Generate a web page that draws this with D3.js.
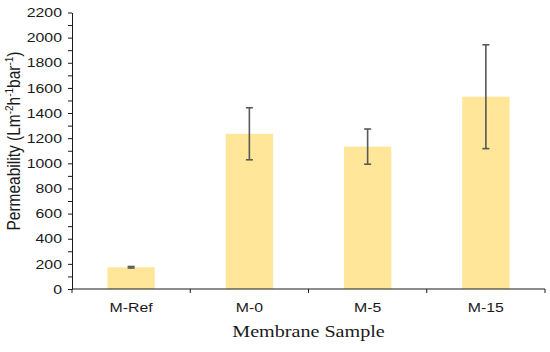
<!DOCTYPE html>
<html>
<head>
<meta charset="utf-8">
<script src="https://cdn.jsdelivr.net/npm/d3@7"></script>
<style>
  body { margin: 0; background: #fff; }
  .axis text { font-family: "Liberation Sans", Arial, sans-serif; font-size: 13px; fill: #1a1a1a; }
  .axis path, .axis line { stroke: #1a1a1a; }
</style>
</head>
<body>
<div id="chart"></div>
<script>
// data
const samples = ['M-Ref', 'M-0', 'M-5', 'M-15'];
const permeability = [173, 1235, 1133, 1530];
const errors = [6, 207, 140, 413];
const yTicks = [0, 200, 400, 600, 800, 1000, 1200, 1400, 1600, 1800, 2000, 2200];

const width = 550, height = 352;
const margin = {top: 12.5, right: 5, bottom: 63, left: 72};
const innerW = width - margin.left - margin.right;
const innerH = height - margin.top - margin.bottom;
// the source image is a little stretched sideways, so text is too
const stretch = 1.22;

const data = samples.map((s, i) => ({name: s, value: permeability[i], err: errors[i]}));

const svg = d3.select('#chart').append('svg')
  .attr('width', width)
  .attr('height', height);

const g = svg.append('g')
  .attr('transform', `translate(${margin.left},${margin.top})`);

const x = d3.scaleBand().domain(samples).range([0, innerW]).paddingInner(0.6).paddingOuter(0.3);
// same categories without padding, for the boundary tick marks
const xEdges = d3.scaleBand().domain(samples).range([0, innerW]).padding(0);
const y = d3.scaleLinear().domain([0, 2200]).range([innerH, 0]);

// bars
g.selectAll('.bar').data(data).join('rect')
  .attr('class', 'bar')
  .attr('x', d => x(d.name))
  .attr('width', x.bandwidth())
  .attr('y', d => y(d.value))
  .attr('height', d => innerH - y(d.value))
  .attr('fill', '#FFE699');

// error bars
const eb = g.selectAll('.err').data(data).join('g').attr('class', 'err')
  .attr('stroke', '#595959')
  .attr('stroke-width', 1.6);
const cx = d => x(d.name) + x.bandwidth() / 2;
eb.append('line')
  .attr('x1', cx).attr('x2', cx)
  .attr('y1', d => y(d.value + d.err)).attr('y2', d => y(d.value - d.err));
eb.append('line')
  .attr('x1', d => cx(d) - 3.5).attr('x2', d => cx(d) + 3.5)
  .attr('y1', d => y(d.value + d.err)).attr('y2', d => y(d.value + d.err));
eb.append('line')
  .attr('x1', d => cx(d) - 3.5).attr('x2', d => cx(d) + 3.5)
  .attr('y1', d => y(d.value - d.err)).attr('y2', d => y(d.value - d.err));

// y axis: ticks every 100, labels every 200
const yMinor = d3.range(0, 2201, 100);
const yAxis = d3.axisLeft(y)
  .tickValues(yMinor)
  .tickSize(4)
  .tickSizeOuter(0)
  .tickPadding(4.2)
  .tickFormat(d => yTicks.includes(d) ? d : '');
g.append('g').attr('class', 'axis y-axis').call(yAxis)
  .selectAll('text').attr('transform', `scale(${stretch},1)`);

// x axis: labels centred, tick marks on category boundaries
const xAxis = d3.axisBottom(x).tickSize(0).tickPadding(14);
const xG = g.append('g').attr('class', 'axis x-axis')
  .attr('transform', `translate(0,${innerH})`)
  .call(xAxis);
xG.selectAll('text').attr('transform', `scale(${stretch},1)`);
xG.select('.domain').remove();
xG.append('line').attr('x1', 0).attr('x2', innerW).attr('stroke', '#1a1a1a');
const edges = samples.map(s => xEdges(s)).concat([innerW]);
xG.selectAll('.edge').data(edges).join('line')
  .attr('class', 'edge')
  .attr('x1', d => d).attr('x2', d => d)
  .attr('y1', 0).attr('y2', 4)
  .attr('stroke', '#1a1a1a');

// axis titles
svg.append('text')
  .attr('transform', `translate(${margin.left + innerW / 2},337) scale(1.15,1)`)
  .attr('text-anchor', 'middle')
  .style('font-family', '"Liberation Serif", "Times New Roman", serif')
  .style('font-size', '17.5px')
  .style('fill', '#1a1a1a')
  .text('Membrane Sample');

const yl = svg.append('text')
  .attr('transform', 'translate(20,141) rotate(-90) scale(1,1.18)')
  .attr('text-anchor', 'middle')
  .style('font-family', '"Liberation Sans", Arial, sans-serif')
  .style('font-size', '15.5px')
  .style('fill', '#1a1a1a');
yl.append('tspan').text('Permeability (Lm');
yl.append('tspan').attr('dy', -6).style('font-size', '10px').text('-2');
yl.append('tspan').attr('dy', 6).text('h');
yl.append('tspan').attr('dy', -6).style('font-size', '10px').text('-1');
yl.append('tspan').attr('dy', 6).text('bar');
yl.append('tspan').attr('dy', -6).style('font-size', '10px').text('-1');
yl.append('tspan').attr('dy', 6).text(')');
</script>
</body>
</html>
